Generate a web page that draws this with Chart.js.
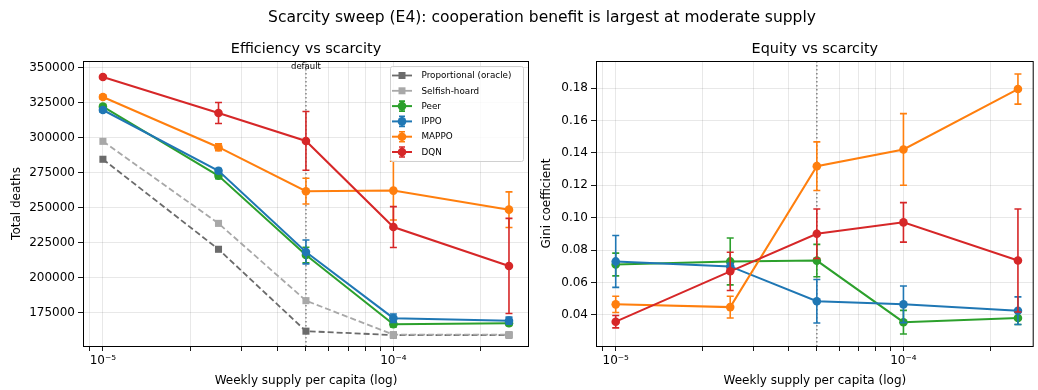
<!DOCTYPE html>
<html>
<head>
<meta charset="utf-8">
<script src="https://cdn.jsdelivr.net/npm/chart.js@4.4.1/dist/chart.umd.min.js"></script>
<style>
  body { margin: 0; width: 1038px; height: 390px; background: #fff; position: relative; overflow: hidden; font-family: "DejaVu Sans", sans-serif; }
  #suptitle { position: absolute; left: 23px; top: 8px; width: 1038px; text-align: center; font-size: 15.5px; line-height: 18px; color: #000; z-index: 2; }
  canvas { position: absolute; top: 0; }
</style>
</head>
<body>
<div id="suptitle">Scarcity sweep (E4): cooperation benefit is largest at moderate supply</div>
<canvas id="eff" width="535" height="390" style="left:0"></canvas>
<canvas id="gini" width="503" height="390" style="left:535px"></canvas>
<script>
// sweep points (weekly supply per capita)
var supply = [1e-5, 2.5e-5, 5e-5, 1e-4, 2.5e-4];
var defaultSupply = 5e-5;

// total deaths
var deathsOracle  = [284800, 220500, 162000, 159200, 159200];
var deathsSelfish = [297600, 239000, 183800, 159500, 159500];
var deathsPeer    = [322400, 273000, 216400, 167000, 167600];
var deathsIppo    = [320000, 276600, 218600, 171300, 169500];
var deathsMappo   = [329300, 293400, 262000, 262400, 248800];
var deathsDqn     = [343600, 317900, 297900, 236400, 208600];
var deathsPeerErr  = [1500, 2000, 5500, 2000, 1500];
var deathsIppoErr  = [1500, 1500, 8500, 3000, 2500];
var deathsMappoErr = [1500, 2500, 9200, 21000, 12700];
var deathsDqnErr   = [1000, 7500, 21000, 14600, 34000];

// gini coefficient
var giniPeer  = [0.0711, 0.0730, 0.0735, 0.0355, 0.0381];
var giniIppo  = [0.0730, 0.0699, 0.0484, 0.0465, 0.0426];
var giniMappo = [0.0465, 0.0448, 0.1318, 0.1421, 0.1794];
var giniDqn   = [0.0358, 0.0669, 0.0901, 0.0971, 0.0736];
var giniPeerErr  = [0.0070, 0.0145, 0.0100, 0.0073, 0.0040];
var giniIppoErr  = [0.0160, 0.0020, 0.0134, 0.0113, 0.0085];
var giniMappoErr = [0.0050, 0.0067, 0.0150, 0.0221, 0.0093];
var giniDqnErr   = [0.0038, 0.0118, 0.0153, 0.0122, 0.0318];

// ticks
var deathTicks = [175000, 200000, 225000, 250000, 275000, 300000, 325000, 350000];
var giniTicks = [0.04, 0.06, 0.08, 0.10, 0.12, 0.14, 0.16, 0.18];
var xGrid = [9e-6, 1e-5, 2e-5, 3e-5, 4e-5, 5e-5, 6e-5, 7e-5, 8e-5, 9e-5, 1e-4, 2e-4];
var xLabels = { '0.00001': '10\u207B\u2075', '0.0001': '10\u207B\u2074' };

var FONT = '"DejaVu Sans", sans-serif';
var C = {
  oracle: '#6b6b6b', selfish: '#a8a8a8', peer: '#2ca02c',
  ippo: '#1f77b4', mappo: '#ff7f0e', dqn: '#d62728'
};

function pts(ys) {
  return supply.map(function (x, i) { return { x: x, y: ys[i] }; });
}

function series(label, ys, err, color, square) {
  return {
    label: label,
    data: pts(ys),
    err: err,
    borderColor: color,
    backgroundColor: color,
    borderWidth: square ? 1.8 : 2,
    borderDash: square ? [6, 3] : [],
    pointStyle: square ? 'rect' : 'circle',
    pointRadius: square ? 5 : 4.3,
    pointBorderWidth: 0,
    pointHoverRadius: square ? 5 : 4.3,
    tension: 0
  };
}

// error bars drawn under each series
var errorBars = {
  id: 'errorBars',
  beforeDatasetDraw: function (chart, args) {
    var ds = chart.data.datasets[args.index];
    if (!ds.err) return;
    var xs = chart.scales.x, ys = chart.scales.y, ctx = chart.ctx;
    ctx.save();
    ctx.strokeStyle = ds.borderColor;
    ctx.lineWidth = 1.6;
    ds.data.forEach(function (p, i) {
      var x = xs.getPixelForValue(p.x);
      var top = ys.getPixelForValue(p.y + ds.err[i]);
      var bot = ys.getPixelForValue(p.y - ds.err[i]);
      ctx.beginPath();
      ctx.moveTo(x, top); ctx.lineTo(x, bot);
      ctx.moveTo(x - 3.5, top); ctx.lineTo(x + 3.5, top);
      ctx.moveTo(x - 3.5, bot); ctx.lineTo(x + 3.5, bot);
      ctx.stroke();
    });
    ctx.restore();
  }
};

// dotted marker for the default supply, frame and panel title
var decorations = {
  id: 'decorations',
  beforeDatasetsDraw: function (chart) {
    var a = chart.chartArea, ctx = chart.ctx;
    var x = chart.scales.x.getPixelForValue(defaultSupply);
    ctx.save();
    ctx.strokeStyle = '#808080';
    ctx.lineWidth = 1.5;
    ctx.setLineDash([1.5, 2.5]);
    ctx.beginPath();
    ctx.moveTo(x, a.top); ctx.lineTo(x, a.bottom);
    ctx.stroke();
    if (chart.options.plugins.decorations.defaultLabel) {
      ctx.fillStyle = '#000';
      ctx.font = '8.5px ' + FONT;
      ctx.textAlign = 'center';
      ctx.textBaseline = 'middle';
      ctx.fillText('default', x, a.top + 6);
    }
    ctx.restore();
  },
  afterDraw: function (chart) {
    var a = chart.chartArea, ctx = chart.ctx;
    ctx.save();
    ctx.strokeStyle = '#000';
    ctx.lineWidth = 1;
    ctx.strokeRect(a.left + 0.5, a.top + 0.5, a.right - a.left - 1, a.bottom - a.top);
    ctx.fillStyle = '#000';
    ctx.font = '14.4px ' + FONT;
    ctx.textAlign = 'center';
    ctx.textBaseline = 'middle';
    ctx.fillText(chart.options.plugins.decorations.title, (a.left + a.right) / 2, a.top - 12);
    ctx.restore();
  }
};

// boxed legend in the upper right corner
var boxLegend = {
  id: 'boxLegend',
  afterDraw: function (chart) {
    if (!chart.options.plugins.boxLegend.show) return;
    var a = chart.chartArea, ctx = chart.ctx;
    var w = 133, h = 95, x0 = a.right - 6 - w, y0 = a.top + 5;
    ctx.save();
    ctx.fillStyle = 'rgba(255,255,255,0.8)';
    ctx.strokeStyle = '#d0d0d0';
    ctx.lineWidth = 1;
    ctx.beginPath();
    ctx.roundRect(x0 + 0.5, y0 + 0.5, w, h, 2);
    ctx.fill(); ctx.stroke();
    ctx.font = '8.8px ' + FONT;
    ctx.textBaseline = 'middle';
    chart.data.datasets.forEach(function (ds, k) {
      var y = y0 + 9.5 + k * 15.3, mx = x0 + 12;
      ctx.strokeStyle = ds.borderColor;
      ctx.fillStyle = ds.borderColor;
      ctx.lineWidth = ds.borderWidth;
      ctx.setLineDash([]);
      ctx.beginPath();
      ctx.moveTo(x0 + 2, y); ctx.lineTo(x0 + 22, y);
      ctx.stroke();
      if (ds.err) {
        ctx.lineWidth = 1.6;
        ctx.beginPath();
        ctx.moveTo(mx, y - 5); ctx.lineTo(mx, y + 5);
        ctx.moveTo(mx - 3, y - 5); ctx.lineTo(mx + 3, y - 5);
        ctx.moveTo(mx - 3, y + 5); ctx.lineTo(mx + 3, y + 5);
        ctx.stroke();
      }
      ctx.beginPath();
      if (ds.pointStyle === 'rect') ctx.rect(mx - 3.5, y - 3.5, 7, 7);
      else ctx.arc(mx, y, 4.3, 0, Math.PI * 2);
      ctx.fill();
      ctx.fillStyle = '#000';
      ctx.fillText(ds.label, x0 + 31.5, y + 0.5);
    });
    ctx.restore();
  }
};

function options(cfg) {
  return {
    responsive: false,
    animation: false,
    events: [],
    layout: { padding: { top: 61, right: cfg.padRight, left: 0, bottom: 0 } },
    plugins: {
      legend: { display: false },
      tooltip: { enabled: false },
      decorations: { title: cfg.title, defaultLabel: cfg.defaultLabel },
      boxLegend: { show: cfg.legend }
    },
    scales: {
      x: {
        type: 'logarithmic',
        min: 8.54e-6,
        max: cfg.xMax,
        afterBuildTicks: function (s) {
          s.ticks = xGrid.map(function (v) { return { value: v }; });
        },
        afterFit: function (s) { s.height = 44; },
        ticks: {
          autoSkip: false, maxRotation: 0, padding: 3, color: '#000',
          font: { family: FONT, size: 12 },
          callback: function (v) { return xLabels[String(v)] || ''; }
        },
        grid: { color: 'rgba(0,0,0,0.1)', tickColor: '#000', tickLength: 5, lineWidth: 0.9 },
        border: { display: false },
        title: {
          display: true, text: 'Weekly supply per capita (log)', color: '#000',
          font: { family: FONT, size: 12 }, padding: { top: 0, bottom: 1.8 }
        }
      },
      y: {
        min: cfg.yMin,
        max: cfg.yMax,
        afterBuildTicks: function (s) {
          s.ticks = cfg.yTicks.map(function (v) { return { value: v }; });
        },
        afterFit: function (s) { s.width = cfg.yWidth; },
        ticks: {
          padding: 3, color: '#000', font: { family: FONT, size: 12 },
          callback: cfg.yFormat
        },
        grid: { color: 'rgba(0,0,0,0.1)', tickColor: '#000', tickLength: 5, lineWidth: 0.9 },
        border: { display: false },
        title: {
          display: true, text: cfg.yTitle, color: '#000',
          font: { family: FONT, size: 12 }, padding: { top: cfg.yTitlePad, bottom: 0 }
        }
      }
    }
  };
}

function withOrder(list) {
  list.forEach(function (ds, i) { ds.order = list.length - 1 - i; });
  return list;
}

new Chart(document.getElementById('eff'), {
  type: 'line',
  data: {
    datasets: withOrder([
      series('Proportional (oracle)', deathsOracle, null, C.oracle, true),
      series('Selfish-hoard', deathsSelfish, null, C.selfish, true),
      series('Peer', deathsPeer, deathsPeerErr, C.peer),
      series('IPPO', deathsIppo, deathsIppoErr, C.ippo),
      series('MAPPO', deathsMappo, deathsMappoErr, C.mappo),
      series('DQN', deathsDqn, deathsDqnErr, C.dqn)
    ])
  },
  options: options({
    title: 'Efficiency vs scarcity', defaultLabel: true, legend: true,
    padRight: 6, xMax: 2.93e-4, yMin: 151400, yMax: 355000, yTicks: deathTicks,
    yWidth: 83, yTitle: 'Total deaths', yTitlePad: 9.5,
    yFormat: function (v) { return String(v); }
  }),
  plugins: [errorBars, decorations, boxLegend]
});

new Chart(document.getElementById('gini'), {
  type: 'line',
  data: {
    datasets: withOrder([
      series('Peer', giniPeer, giniPeerErr, C.peer),
      series('IPPO', giniIppo, giniIppoErr, C.ippo),
      series('MAPPO', giniMappo, giniMappoErr, C.mappo),
      series('DQN', giniDqn, giniDqnErr, C.dqn)
    ])
  },
  options: options({
    title: 'Equity vs scarcity', defaultLabel: false, legend: false,
    padRight: 1, xMax: 2.836e-4, yMin: 0.0208, yMax: 0.1967, yTicks: giniTicks,
    yWidth: 61, yTitle: 'Gini coefficient', yTitlePad: 4.8,
    yFormat: function (v) { return v.toFixed(2); }
  }),
  plugins: [errorBars, decorations, boxLegend]
});
</script>
</body>
</html>
